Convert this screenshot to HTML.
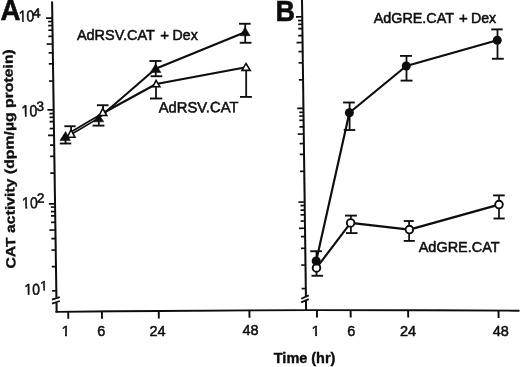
<!DOCTYPE html>
<html lang="en"><head><meta charset="utf-8"><title>CAT activity time course</title>
<style>
html,body{margin:0;padding:0;background:#fff;}
body{width:520px;height:367px;overflow:hidden;}
svg{display:block;font-family:'Liberation Sans', Arial, Helvetica, sans-serif;fill:#0a0a0a;}
svg text{font-family:'Liberation Sans', Arial, Helvetica, sans-serif;}
</style></head><body>
<svg width="520" height="367" viewBox="0 0 520 367">
<defs><filter id="soft" x="0" y="0" width="520" height="367" filterUnits="userSpaceOnUse"><feGaussianBlur stdDeviation="0.4"/></filter></defs>
<rect width="520" height="367" fill="#fff"/>
<g filter="url(#soft)">
<line x1="52.07205" y1="1.5" x2="56.423249999999996" y2="297.5" stroke="#0a0a0a" stroke-width="2.0" stroke-linecap="butt"/>
<line x1="56.504099999999994" y1="303" x2="56.645219999999995" y2="312.6" stroke="#0a0a0a" stroke-width="2.0" stroke-linecap="butt"/>
<line x1="302.0" y1="0" x2="305.9072" y2="296" stroke="#0a0a0a" stroke-width="2.0" stroke-linecap="butt"/>
<line x1="305.9732" y1="301" x2="306.0986" y2="310.5" stroke="#0a0a0a" stroke-width="2.0" stroke-linecap="butt"/>
<polyline points="55.5,311.9 115,311.3 160,311.0 250,310.4 310,310.1 425,310.3 519.5,310.7" fill="none" stroke="#0a0a0a" stroke-width="1.9"/>
<line x1="52" y1="299.7" x2="59.8" y2="297.2" stroke="#0a0a0a" stroke-width="1.8" stroke-linecap="butt"/>
<line x1="52" y1="303.6" x2="59.8" y2="301.0" stroke="#0a0a0a" stroke-width="1.8" stroke-linecap="butt"/>
<line x1="301.2" y1="298.8" x2="308.8" y2="295.4" stroke="#0a0a0a" stroke-width="1.8" stroke-linecap="butt"/>
<line x1="301.2" y1="302.3" x2="308.8" y2="299.1" stroke="#0a0a0a" stroke-width="1.8" stroke-linecap="butt"/>
<line x1="46.11606999999999" y1="18.150000000000002" x2="52.316069999999996" y2="18.1" stroke="#0a0a0a" stroke-width="1.75" stroke-linecap="butt"/>
<line x1="48.16604999999999" y1="21.55" x2="52.366049999999994" y2="21.5" stroke="#0a0a0a" stroke-width="1.75" stroke-linecap="butt"/>
<line x1="48.224849999999996" y1="25.55" x2="52.42485" y2="25.5" stroke="#0a0a0a" stroke-width="1.75" stroke-linecap="butt"/>
<line x1="48.29393999999999" y1="30.25" x2="52.493939999999995" y2="30.2" stroke="#0a0a0a" stroke-width="1.75" stroke-linecap="butt"/>
<line x1="48.38287499999999" y1="36.3" x2="52.582874999999994" y2="36.25" stroke="#0a0a0a" stroke-width="1.75" stroke-linecap="butt"/>
<line x1="46.696799999999996" y1="44.05" x2="52.696799999999996" y2="44" stroke="#0a0a0a" stroke-width="1.75" stroke-linecap="butt"/>
<line x1="48.62542499999999" y1="52.8" x2="52.825424999999996" y2="52.75" stroke="#0a0a0a" stroke-width="1.75" stroke-linecap="butt"/>
<line x1="48.787124999999996" y1="63.8" x2="52.987125" y2="63.75" stroke="#0a0a0a" stroke-width="1.75" stroke-linecap="butt"/>
<line x1="49.040699999999994" y1="81.05" x2="53.2407" y2="81" stroke="#0a0a0a" stroke-width="1.75" stroke-linecap="butt"/>
<line x1="47.464059999999996" y1="109.85" x2="53.66406" y2="109.8" stroke="#0a0a0a" stroke-width="1.75" stroke-linecap="butt"/>
<line x1="49.518449999999994" y1="113.55" x2="53.71845" y2="113.5" stroke="#0a0a0a" stroke-width="1.75" stroke-linecap="butt"/>
<line x1="49.57357499999999" y1="117.3" x2="53.773574999999994" y2="117.25" stroke="#0a0a0a" stroke-width="1.75" stroke-linecap="butt"/>
<line x1="49.637519999999995" y1="121.64999999999999" x2="53.83752" y2="121.6" stroke="#0a0a0a" stroke-width="1.75" stroke-linecap="butt"/>
<line x1="49.738949999999996" y1="128.55" x2="53.93895" y2="128.5" stroke="#0a0a0a" stroke-width="1.75" stroke-linecap="butt"/>
<line x1="48.04038" y1="135.45000000000002" x2="54.04038" y2="135.4" stroke="#0a0a0a" stroke-width="1.75" stroke-linecap="butt"/>
<line x1="49.982969999999995" y1="145.15" x2="54.18297" y2="145.1" stroke="#0a0a0a" stroke-width="1.75" stroke-linecap="butt"/>
<line x1="50.146874999999994" y1="156.3" x2="54.346875" y2="156.25" stroke="#0a0a0a" stroke-width="1.75" stroke-linecap="butt"/>
<line x1="50.394569999999995" y1="173.15" x2="54.59457" y2="173.1" stroke="#0a0a0a" stroke-width="1.75" stroke-linecap="butt"/>
<line x1="48.845859999999995" y1="203.85000000000002" x2="55.04586" y2="203.8" stroke="#0a0a0a" stroke-width="1.75" stroke-linecap="butt"/>
<line x1="50.8929" y1="207.05" x2="55.0929" y2="207" stroke="#0a0a0a" stroke-width="1.75" stroke-linecap="butt"/>
<line x1="50.95904999999999" y1="211.55" x2="55.15904999999999" y2="211.5" stroke="#0a0a0a" stroke-width="1.75" stroke-linecap="butt"/>
<line x1="51.022259999999996" y1="215.85000000000002" x2="55.22226" y2="215.8" stroke="#0a0a0a" stroke-width="1.75" stroke-linecap="butt"/>
<line x1="51.11707499999999" y1="222.3" x2="55.317074999999996" y2="222.25" stroke="#0a0a0a" stroke-width="1.75" stroke-linecap="butt"/>
<line x1="49.431" y1="230.05" x2="55.431" y2="230" stroke="#0a0a0a" stroke-width="1.75" stroke-linecap="butt"/>
<line x1="51.35741999999999" y1="238.65" x2="55.55741999999999" y2="238.6" stroke="#0a0a0a" stroke-width="1.75" stroke-linecap="butt"/>
<line x1="51.52499999999999" y1="250.05" x2="55.724999999999994" y2="250" stroke="#0a0a0a" stroke-width="1.75" stroke-linecap="butt"/>
<line x1="51.76902" y1="266.65000000000003" x2="55.96902" y2="266.6" stroke="#0a0a0a" stroke-width="1.75" stroke-linecap="butt"/>
<line x1="52.124024999999996" y1="290.8" x2="56.324025" y2="290.75" stroke="#0a0a0a" stroke-width="1.75" stroke-linecap="butt"/>
<line x1="296.0211" y1="16.8" x2="302.2211" y2="16.75" stroke="#0a0a0a" stroke-width="1.75" stroke-linecap="butt"/>
<line x1="298.0706" y1="20.55" x2="302.2706" y2="20.5" stroke="#0a0a0a" stroke-width="1.75" stroke-linecap="butt"/>
<line x1="298.12010000000004" y1="24.3" x2="302.3201" y2="24.25" stroke="#0a0a0a" stroke-width="1.75" stroke-linecap="butt"/>
<line x1="298.17752" y1="28.650000000000002" x2="302.37752" y2="28.6" stroke="#0a0a0a" stroke-width="1.75" stroke-linecap="butt"/>
<line x1="298.26992" y1="35.65" x2="302.46992" y2="35.6" stroke="#0a0a0a" stroke-width="1.75" stroke-linecap="butt"/>
<line x1="296.561" y1="42.55" x2="302.561" y2="42.5" stroke="#0a0a0a" stroke-width="1.75" stroke-linecap="butt"/>
<line x1="298.4798" y1="51.55" x2="302.6798" y2="51.5" stroke="#0a0a0a" stroke-width="1.75" stroke-linecap="butt"/>
<line x1="298.6283" y1="62.8" x2="302.8283" y2="62.75" stroke="#0a0a0a" stroke-width="1.75" stroke-linecap="butt"/>
<line x1="298.8527" y1="79.8" x2="303.0527" y2="79.75" stroke="#0a0a0a" stroke-width="1.75" stroke-linecap="butt"/>
<line x1="297.23088" y1="108.45" x2="303.43088" y2="108.4" stroke="#0a0a0a" stroke-width="1.75" stroke-linecap="butt"/>
<line x1="299.2817" y1="112.3" x2="303.4817" y2="112.25" stroke="#0a0a0a" stroke-width="1.75" stroke-linecap="butt"/>
<line x1="299.3312" y1="116.05" x2="303.5312" y2="116" stroke="#0a0a0a" stroke-width="1.75" stroke-linecap="butt"/>
<line x1="299.38730000000004" y1="120.3" x2="303.5873" y2="120.25" stroke="#0a0a0a" stroke-width="1.75" stroke-linecap="butt"/>
<line x1="299.47376" y1="126.85" x2="303.67376" y2="126.8" stroke="#0a0a0a" stroke-width="1.75" stroke-linecap="butt"/>
<line x1="297.7688" y1="134.05" x2="303.7688" y2="134" stroke="#0a0a0a" stroke-width="1.75" stroke-linecap="butt"/>
<line x1="299.6942" y1="143.55" x2="303.8942" y2="143.5" stroke="#0a0a0a" stroke-width="1.75" stroke-linecap="butt"/>
<line x1="299.83808" y1="154.45000000000002" x2="304.03808" y2="154.4" stroke="#0a0a0a" stroke-width="1.75" stroke-linecap="butt"/>
<line x1="300.0605" y1="171.3" x2="304.2605" y2="171.25" stroke="#0a0a0a" stroke-width="1.75" stroke-linecap="butt"/>
<line x1="298.4664" y1="202.05" x2="304.6664" y2="202" stroke="#0a0a0a" stroke-width="1.75" stroke-linecap="butt"/>
<line x1="300.5126" y1="205.55" x2="304.7126" y2="205.5" stroke="#0a0a0a" stroke-width="1.75" stroke-linecap="butt"/>
<line x1="300.57332" y1="210.15" x2="304.77332" y2="210.1" stroke="#0a0a0a" stroke-width="1.75" stroke-linecap="butt"/>
<line x1="300.6347" y1="214.8" x2="304.8347" y2="214.75" stroke="#0a0a0a" stroke-width="1.75" stroke-linecap="butt"/>
<line x1="300.7172" y1="221.05" x2="304.9172" y2="221" stroke="#0a0a0a" stroke-width="1.75" stroke-linecap="butt"/>
<line x1="299.0129" y1="228.3" x2="305.0129" y2="228.25" stroke="#0a0a0a" stroke-width="1.75" stroke-linecap="butt"/>
<line x1="300.92312" y1="236.65" x2="305.12312" y2="236.6" stroke="#0a0a0a" stroke-width="1.75" stroke-linecap="butt"/>
<line x1="301.0769" y1="248.3" x2="305.2769" y2="248.25" stroke="#0a0a0a" stroke-width="1.75" stroke-linecap="butt"/>
<line x1="301.298" y1="265.05" x2="305.498" y2="265" stroke="#0a0a0a" stroke-width="1.75" stroke-linecap="butt"/>
<line x1="301.6082" y1="288.55" x2="305.8082" y2="288.5" stroke="#0a0a0a" stroke-width="1.75" stroke-linecap="butt"/>
<line x1="68.2" y1="311.77193277310926" x2="68.3" y2="318.8" stroke="#0a0a0a" stroke-width="1.9" stroke-linecap="butt"/>
<line x1="101.9" y1="311.43210084033615" x2="102.0" y2="318.8" stroke="#0a0a0a" stroke-width="1.9" stroke-linecap="butt"/>
<line x1="158.75" y1="311.0083333333333" x2="158.85" y2="318.6" stroke="#0a0a0a" stroke-width="1.9" stroke-linecap="butt"/>
<line x1="249.4" y1="310.404" x2="249.5" y2="317.8" stroke="#0a0a0a" stroke-width="1.9" stroke-linecap="butt"/>
<line x1="316.9" y1="310.112" x2="317.0" y2="317.6" stroke="#0a0a0a" stroke-width="1.9" stroke-linecap="butt"/>
<line x1="350.6" y1="310.1706086956522" x2="350.70000000000005" y2="317.6" stroke="#0a0a0a" stroke-width="1.9" stroke-linecap="butt"/>
<line x1="408.1" y1="310.2706086956522" x2="408.20000000000005" y2="317.6" stroke="#0a0a0a" stroke-width="1.9" stroke-linecap="butt"/>
<line x1="498.5" y1="310.6111111111111" x2="498.6" y2="318.0" stroke="#0a0a0a" stroke-width="1.9" stroke-linecap="butt"/>
<polyline points="65,138.0 98.75,118.1" fill="none" stroke="#0a0a0a" stroke-width="1.65" stroke-linejoin="round"/>
<polyline points="71.3,131.8 103.2,113.0" fill="none" stroke="#0a0a0a" stroke-width="1.65" stroke-linejoin="round"/>
<polyline points="98.75,118.1 155.6,68.8 245,32.3" fill="none" stroke="#0a0a0a" stroke-width="2.05" stroke-linejoin="round"/>
<polyline points="103.2,113.0 156.2,84 246,67.2" fill="none" stroke="#0a0a0a" stroke-width="2.05" stroke-linejoin="round"/>
<line x1="65.5" y1="138" x2="65.5" y2="143.5" stroke="#0a0a0a" stroke-width="1.75" stroke-linecap="butt"/>
<line x1="59.75" y1="143.5" x2="71.25" y2="143.5" stroke="#0a0a0a" stroke-width="1.85" stroke-linecap="butt"/>
<line x1="98.8" y1="120" x2="98.8" y2="125.6" stroke="#0a0a0a" stroke-width="1.75" stroke-linecap="butt"/>
<line x1="92.5" y1="125.6" x2="104.4" y2="125.6" stroke="#0a0a0a" stroke-width="1.85" stroke-linecap="butt"/>
<line x1="155.75" y1="61" x2="155.75" y2="76.25" stroke="#0a0a0a" stroke-width="1.75" stroke-linecap="butt"/>
<line x1="149.4" y1="61" x2="161.5" y2="61" stroke="#0a0a0a" stroke-width="1.85" stroke-linecap="butt"/>
<line x1="150.6" y1="76.25" x2="162.25" y2="76.25" stroke="#0a0a0a" stroke-width="1.85" stroke-linecap="butt"/>
<line x1="245.25" y1="23.75" x2="245.25" y2="42.75" stroke="#0a0a0a" stroke-width="1.75" stroke-linecap="butt"/>
<line x1="239" y1="23.75" x2="250.6" y2="23.75" stroke="#0a0a0a" stroke-width="1.85" stroke-linecap="butt"/>
<line x1="239.75" y1="42.75" x2="251.5" y2="42.75" stroke="#0a0a0a" stroke-width="1.85" stroke-linecap="butt"/>
<line x1="71.1" y1="126.25" x2="71.1" y2="131" stroke="#0a0a0a" stroke-width="1.75" stroke-linecap="butt"/>
<line x1="64.4" y1="126.25" x2="75.6" y2="126.25" stroke="#0a0a0a" stroke-width="1.85" stroke-linecap="butt"/>
<line x1="103.1" y1="105.25" x2="103.1" y2="110" stroke="#0a0a0a" stroke-width="1.75" stroke-linecap="butt"/>
<line x1="96.9" y1="105.25" x2="108.5" y2="105.25" stroke="#0a0a0a" stroke-width="1.85" stroke-linecap="butt"/>
<line x1="156" y1="86" x2="156" y2="98.5" stroke="#0a0a0a" stroke-width="1.75" stroke-linecap="butt"/>
<line x1="150" y1="98.5" x2="162.25" y2="98.5" stroke="#0a0a0a" stroke-width="1.85" stroke-linecap="butt"/>
<line x1="246.2" y1="70" x2="246.2" y2="96.9" stroke="#0a0a0a" stroke-width="1.75" stroke-linecap="butt"/>
<line x1="240" y1="96.9" x2="251.9" y2="96.9" stroke="#0a0a0a" stroke-width="1.85" stroke-linecap="butt"/>
<polygon points="65.6,131.6 70.3,140.55 59.95,140.55" fill="#0a0a0a" stroke="#0a0a0a" stroke-width="0.6" stroke-linejoin="miter"/>
<polygon points="98.75,114.45 103.8,121.8 93.45,121.8" fill="#0a0a0a" stroke="#0a0a0a" stroke-width="0.6" stroke-linejoin="miter"/>
<polygon points="155.6,64.10000000000001 160.9,72.55 150.29999999999998,72.55" fill="#0a0a0a" stroke="#0a0a0a" stroke-width="0.6" stroke-linejoin="miter"/>
<polygon points="245,27.2 250.05,35.699999999999996 240.29999999999998,35.699999999999996" fill="#0a0a0a" stroke="#0a0a0a" stroke-width="0.6" stroke-linejoin="miter"/>
<polygon points="71.00,129.69 74.91,137.20 67.39,137.20" fill="#fff" stroke="#0a0a0a" stroke-width="1.6" stroke-linejoin="miter"/>
<polygon points="102.80,108.48 106.76,115.50 99.14,115.50" fill="#fff" stroke="#0a0a0a" stroke-width="1.6" stroke-linejoin="miter"/>
<polygon points="156.10,80.44 159.84,86.70 152.86,86.70" fill="#fff" stroke="#0a0a0a" stroke-width="1.6" stroke-linejoin="miter"/>
<polygon points="246.00,63.47 250.19,70.40 241.96,70.40" fill="#fff" stroke="#0a0a0a" stroke-width="1.6" stroke-linejoin="miter"/>
<polyline points="316.5,267.9 350.6,222.9 409.4,229.6 499,204.6" fill="none" stroke="#0a0a0a" stroke-width="2.15" stroke-linejoin="round"/>
<polyline points="316.2,261 349.4,112.75 406.25,66 497.25,40.25" fill="none" stroke="#0a0a0a" stroke-width="2.15" stroke-linejoin="round"/>
<line x1="316.5" y1="251.25" x2="316.5" y2="275.75" stroke="#0a0a0a" stroke-width="1.75" stroke-linecap="butt"/>
<line x1="310.25" y1="251.25" x2="321.9" y2="251.25" stroke="#0a0a0a" stroke-width="1.85" stroke-linecap="butt"/>
<line x1="311.5" y1="275.75" x2="323.1" y2="275.75" stroke="#0a0a0a" stroke-width="1.85" stroke-linecap="butt"/>
<line x1="349.6" y1="102.5" x2="349.6" y2="130" stroke="#0a0a0a" stroke-width="1.75" stroke-linecap="butt"/>
<line x1="343.1" y1="102.5" x2="354.75" y2="102.5" stroke="#0a0a0a" stroke-width="1.85" stroke-linecap="butt"/>
<line x1="343.75" y1="130" x2="355.25" y2="130" stroke="#0a0a0a" stroke-width="1.85" stroke-linecap="butt"/>
<line x1="406.5" y1="55.9" x2="406.5" y2="80.6" stroke="#0a0a0a" stroke-width="1.75" stroke-linecap="butt"/>
<line x1="400" y1="55.9" x2="411.9" y2="55.9" stroke="#0a0a0a" stroke-width="1.85" stroke-linecap="butt"/>
<line x1="400.6" y1="80.6" x2="412.5" y2="80.6" stroke="#0a0a0a" stroke-width="1.85" stroke-linecap="butt"/>
<line x1="497.5" y1="29.4" x2="497.5" y2="58.75" stroke="#0a0a0a" stroke-width="1.75" stroke-linecap="butt"/>
<line x1="491.25" y1="29.4" x2="502.75" y2="29.4" stroke="#0a0a0a" stroke-width="1.85" stroke-linecap="butt"/>
<line x1="491.9" y1="58.75" x2="503.75" y2="58.75" stroke="#0a0a0a" stroke-width="1.85" stroke-linecap="butt"/>
<line x1="350.9" y1="215.6" x2="350.9" y2="233.1" stroke="#0a0a0a" stroke-width="1.75" stroke-linecap="butt"/>
<line x1="345" y1="215.6" x2="356.9" y2="215.6" stroke="#0a0a0a" stroke-width="1.85" stroke-linecap="butt"/>
<line x1="346" y1="233.1" x2="357.5" y2="233.1" stroke="#0a0a0a" stroke-width="1.85" stroke-linecap="butt"/>
<line x1="409.1" y1="221" x2="409.1" y2="240.9" stroke="#0a0a0a" stroke-width="1.75" stroke-linecap="butt"/>
<line x1="403.75" y1="221" x2="413.75" y2="221" stroke="#0a0a0a" stroke-width="1.85" stroke-linecap="butt"/>
<line x1="403.75" y1="240.9" x2="414.75" y2="240.9" stroke="#0a0a0a" stroke-width="1.85" stroke-linecap="butt"/>
<line x1="499" y1="195.4" x2="499" y2="218.5" stroke="#0a0a0a" stroke-width="1.75" stroke-linecap="butt"/>
<line x1="493.1" y1="195.4" x2="504.75" y2="195.4" stroke="#0a0a0a" stroke-width="1.85" stroke-linecap="butt"/>
<line x1="493.5" y1="218.5" x2="504.75" y2="218.5" stroke="#0a0a0a" stroke-width="1.85" stroke-linecap="butt"/>
<circle cx="316.5" cy="267.9" r="3.8" fill="#fff" stroke="#0a0a0a" stroke-width="1.9"/>
<circle cx="350.6" cy="222.9" r="3.8" fill="#fff" stroke="#0a0a0a" stroke-width="1.9"/>
<circle cx="409.4" cy="229.6" r="3.8" fill="#fff" stroke="#0a0a0a" stroke-width="1.9"/>
<circle cx="499" cy="204.6" r="3.8" fill="#fff" stroke="#0a0a0a" stroke-width="1.9"/>
<circle cx="316.2" cy="261" r="4.5" fill="#0a0a0a"/>
<circle cx="349.4" cy="112.75" r="4.5" fill="#0a0a0a"/>
<circle cx="406.25" cy="66" r="4.5" fill="#0a0a0a"/>
<circle cx="497.25" cy="40.25" r="4.5" fill="#0a0a0a"/>
<text x="0.4" y="20.3" font-size="28.8" font-weight="bold" text-anchor="start" textLength="20.0" lengthAdjust="spacingAndGlyphs" stroke="#0a0a0a" stroke-width="0.5" >A</text>
<text x="275.5" y="20.5" font-size="29.3" font-weight="bold" text-anchor="start" textLength="19.5" lengthAdjust="spacingAndGlyphs" stroke="#0a0a0a" stroke-width="0.5" >B</text>
<clipPath id="c1"><rect x="18.00" y="6.55" width="8.55" height="12.99"/><rect x="22.05" y="6.55" width="1.66" height="15.95"/><rect x="26.76" y="6.55" width="40.00" height="19.95"/></clipPath>
<text transform="rotate(-0.7 18.8 21.7)" stroke="#0a0a0a" stroke-width="0.5" clip-path="url(#c1)"><tspan x="18.8" y="21.7" font-size="16" textLength="15.4" lengthAdjust="spacingAndGlyphs">10</tspan><tspan x="32.8" y="17.6" font-size="13.0" textLength="8.0" lengthAdjust="spacingAndGlyphs">4</tspan></text>
<clipPath id="c2"><rect x="20.79" y="99.74" width="8.77" height="14.66"/><rect x="24.94" y="99.74" width="1.70" height="17.67"/><rect x="29.77" y="99.74" width="40.00" height="21.75"/></clipPath>
<text transform="rotate(-0.7 21.6 116.6)" stroke="#0a0a0a" stroke-width="0.5" clip-path="url(#c2)"><tspan x="21.6" y="116.6" font-size="16.3" textLength="15.8" lengthAdjust="spacingAndGlyphs">10</tspan><tspan x="36.5" y="111.3" font-size="13.6">3</tspan></text>
<clipPath id="c3"><rect x="21.32" y="191.53" width="8.74" height="14.66"/><rect x="25.44" y="191.53" width="1.70" height="17.56"/><rect x="30.27" y="191.53" width="40.00" height="21.49"/></clipPath>
<text transform="rotate(-0.7 22.1 208.3)" stroke="#0a0a0a" stroke-width="0.5" clip-path="url(#c3)"><tspan x="22.1" y="208.3" font-size="15.7" textLength="15.8" lengthAdjust="spacingAndGlyphs">10</tspan><tspan x="37.2" y="203.0" font-size="13.5">2</tspan></text>
<clipPath id="c4"><rect x="23.72" y="279.28" width="8.58" height="13.41"/><rect x="27.77" y="279.28" width="1.67" height="16.30"/><rect x="32.51" y="279.28" width="7.59" height="20.20"/><rect x="40.10" y="279.28" width="9.24" height="9.44"/><rect x="43.50" y="279.28" width="1.58" height="11.88"/></clipPath>
<text transform="rotate(-0.6 24.5 294.8)" stroke="#0a0a0a" stroke-width="0.5" clip-path="url(#c4)"><tspan x="24.5" y="294.8" font-size="15.6" textLength="15.5" lengthAdjust="spacingAndGlyphs">10</tspan><tspan x="40.4" y="290.5" font-size="13.2">1</tspan></text>
<text stroke="#0a0a0a" stroke-width="0.5" ><tspan x="76.9" y="40.1" font-size="15" textLength="77.9" lengthAdjust="spacingAndGlyphs">AdRSV.CAT</tspan><tspan x="164.6" y="39.8" font-size="15" text-anchor="middle"> + </tspan><tspan x="172.6" y="39.7" font-size="15" textLength="25.2" lengthAdjust="spacingAndGlyphs">Dex</tspan></text>
<text x="158.7" y="112.6" font-size="15" font-weight="normal" text-anchor="start" textLength="79.8" lengthAdjust="spacingAndGlyphs" transform="rotate(-0.3 158.7 112.6)" stroke="#0a0a0a" stroke-width="0.5" >AdRSV.CAT</text>
<text stroke="#0a0a0a" stroke-width="0.5" ><tspan x="373.7" y="22.6" font-size="15" textLength="80.2" lengthAdjust="spacingAndGlyphs">AdGRE.CAT</tspan><tspan x="463.4" y="22.6" font-size="15" text-anchor="middle"> + </tspan><tspan x="471.0" y="22.7" font-size="15" textLength="25.2" lengthAdjust="spacingAndGlyphs">Dex</tspan></text>
<text x="418.7" y="252.4" font-size="15" font-weight="normal" text-anchor="start" textLength="81.0" lengthAdjust="spacingAndGlyphs" transform="rotate(0 418.7 252.4)" stroke="#0a0a0a" stroke-width="0.5" >AdGRE.CAT</text>
<clipPath id="c5"><rect x="60.63" y="323.78" width="9.39" height="10.24"/><rect x="65.02" y="323.78" width="1.85" height="13.09"/></clipPath>
<text x="61.39999999999999" y="336.1" font-size="15.4" font-weight="normal" text-anchor="start" stroke="#0a0a0a" stroke-width="0.5" clip-path="url(#c5)">1</text>
<text x="101.3" y="336.3" font-size="15.4" font-weight="normal" text-anchor="middle" textLength="8.06" lengthAdjust="spacingAndGlyphs" stroke="#0a0a0a" stroke-width="0.5" >6</text>
<text x="157.6" y="335.8" font-size="15.4" font-weight="normal" text-anchor="middle" textLength="16.13" lengthAdjust="spacingAndGlyphs" stroke="#0a0a0a" stroke-width="0.5" >24</text>
<text x="250.5" y="335.20000000000005" font-size="15.4" font-weight="normal" text-anchor="middle" textLength="16.13" lengthAdjust="spacingAndGlyphs" stroke="#0a0a0a" stroke-width="0.5" >48</text>
<clipPath id="c6"><rect x="310.73" y="323.28" width="9.39" height="10.24"/><rect x="315.12" y="323.28" width="1.85" height="13.09"/></clipPath>
<text x="311.5" y="335.6" font-size="15.4" font-weight="normal" text-anchor="start" stroke="#0a0a0a" stroke-width="0.5" clip-path="url(#c6)">1</text>
<text x="351.3" y="335.70000000000005" font-size="15.4" font-weight="normal" text-anchor="middle" textLength="8.06" lengthAdjust="spacingAndGlyphs" stroke="#0a0a0a" stroke-width="0.5" >6</text>
<text x="408" y="335.8" font-size="15.4" font-weight="normal" text-anchor="middle" textLength="16.13" lengthAdjust="spacingAndGlyphs" stroke="#0a0a0a" stroke-width="0.5" >24</text>
<text x="500.7" y="336.1" font-size="15.4" font-weight="normal" text-anchor="middle" textLength="16.13" lengthAdjust="spacingAndGlyphs" stroke="#0a0a0a" stroke-width="0.5" >48</text>
<text x="273.8" y="362.5" font-size="14" font-weight="bold" text-anchor="start" textLength="61.6" lengthAdjust="spacingAndGlyphs" stroke="#0a0a0a" stroke-width="0.35" >Time (hr)</text>
<text x="15.5" y="268.6" font-size="13.3" font-weight="bold" stroke="#0a0a0a" stroke-width="0.3" transform="rotate(-90.8 15.5 268.6)" textLength="219.5" lengthAdjust="spacingAndGlyphs">CAT activity (dpm/µg protein)</text>
</g>
</svg>
</body></html>
